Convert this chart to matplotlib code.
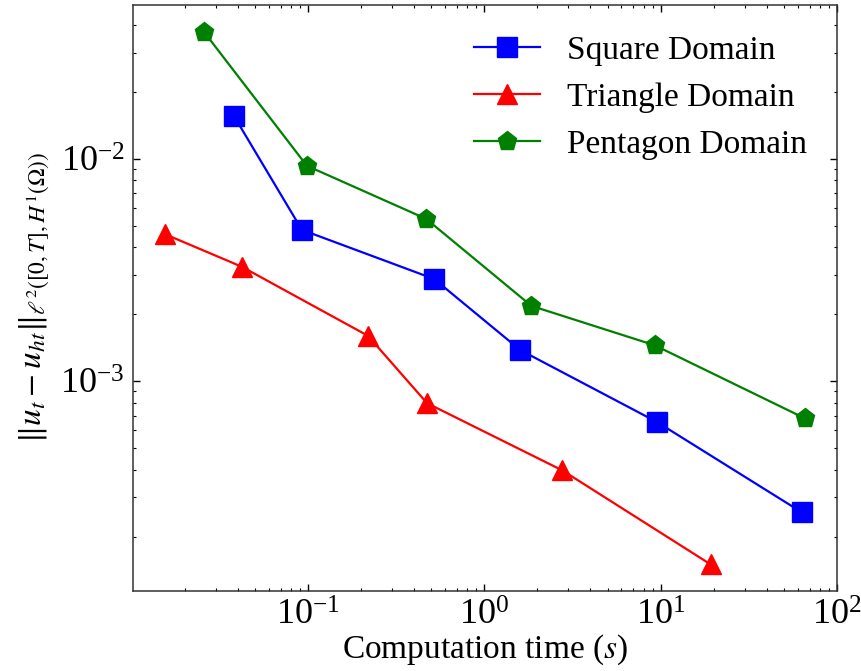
import matplotlib
matplotlib.use("Agg")
import matplotlib.pyplot as plt

plt.rcParams['font.family'] = ['Liberation Serif', 'DejaVu Serif']
plt.rcParams['mathtext.fontset'] = 'stix'

square_t = [0.038, 0.0925, 0.52, 1.60, 9.6, 63.2]
square_err = [0.01563, 0.00479, 0.00288, 0.00138, 6.53e-4, 2.57e-4]

triangle_t = [0.0154, 0.0422, 0.219, 0.474, 2.77, 19.2]
triangle_err = [0.00459, 0.00327, 0.0016, 7.96e-4, 3.97e-4, 1.5e-4]

pentagon_t = [0.0257, 0.0987, 0.468, 1.85, 9.25, 65.8]
pentagon_err = [0.0373, 0.0093, 0.00537, 0.00218, 0.00145, 6.8e-4]

fig = plt.figure(figsize=(8.61, 6.71), dpi=100)
ax = fig.add_axes([133/861, 1 - 591/671, (837-133)/861, (591-5)/671])

ax.plot(square_t, square_err, '-s', color='blue', lw=1.6, ms=14, label='Square Domain')
ax.plot(triangle_t, triangle_err, '-^', color='red', lw=1.6, ms=14, label='Triangle Domain')
ax.plot(pentagon_t, pentagon_err, '-p', color='green', lw=1.6, ms=14, label='Pentagon Domain')

ax.set_xscale('log')
ax.set_yscale('log')
ax.set_xlim(0.0102, 100)

ax.tick_params(which='both', direction='in', top=True, right=True, labelsize=26)
ax.tick_params(which='major', length=5, width=1.0, pad=6)
ax.tick_params(which='minor', length=2.5, width=0.8)
for s in ax.spines.values():
    s.set_linewidth(1.1)
    s.set_color('#333333')

ax.set_xlabel('Computation time ($s$)', fontsize=24, labelpad=0)
ax.set_ylabel(r'$\Vert u_t - u_{ht}\Vert_{\ell^2([0,T],H^1(\Omega))}$', fontsize=24, labelpad=6)

ax.legend(loc='upper right', frameon=False, fontsize=24, handlelength=2.0)

fig.savefig('out.png', dpi=100)
